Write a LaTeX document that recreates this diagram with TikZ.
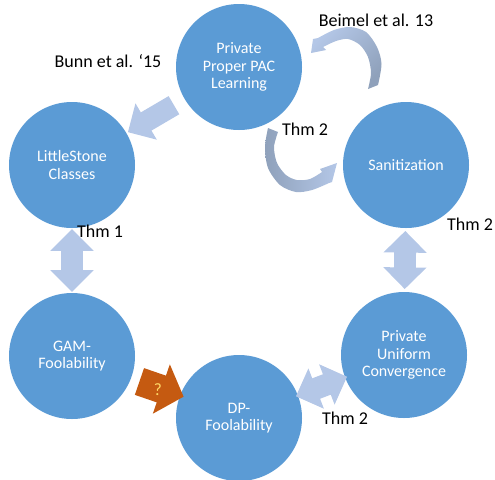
\documentclass[tikz,border=0pt]{standalone}
\usepackage{fontspec}
\setmainfont{Carlito}
\usetikzlibrary{shapes.arrows,calc}

\definecolor{bubble}{HTML}{5B9BD5}
\definecolor{pale}{HTML}{B4C7E7}
\definecolor{slate}{HTML}{8FA1BB}
\definecolor{rust}{HTML}{C55A11}
\definecolor{qmark}{HTML}{FFD966}

\tikzset{
  bub/.style={circle, fill=bubble, minimum size=94.5pt, inner sep=0pt, align=center, text=white, font=\fontsize{12}{13.2}\selectfont},
  lbl/.style={inner sep=0pt, font=\fontsize{13.5}{16}\selectfont},
  fwd/.style={single arrow, fill=pale, inner xsep=0pt, inner ysep=7.7pt, single arrow head extend=7.9pt, single arrow tip angle=90, minimum height=#1},
  both/.style={double arrow, fill=pale, inner xsep=0pt, inner ysep=8pt, double arrow head extend=8pt, double arrow tip angle=90, minimum height=#1},
}

\begin{document}
\begin{tikzpicture}[x=0.75pt,y=-0.75pt]
\useasboundingbox (0,0) rectangle (495,479);

\node (ppac) at (239,67) [bub] {Private\\Proper PAC\\Learning};
\node (ls) at (72,165) [bub] {LittleStone\\Classes};
\node (san) at (406,165) [bub] {Sanitization};
\node (gam) at (72,356) [bub] {GAM-\\Foolability};
\node (puc) at (404,355) [bub] {Private\\Uniform\\Convergence};
\node (dp) at (239,418) [bub] {DP-\\Foolability};

% block arrows between the circles
\node (ppacls) at ($(ppac)!0.5!(ls)$) [fwd=40pt, rotate=210.4] {};
\node (lsgam) at ($(ls)!0.5!(gam)$) [both=47pt, rotate=90] {};
\node (sanpuc) at ($(san)!0.5!(puc)$) [both=43.5pt, rotate=89.4] {};
\node (dppuc) at ($(dp)!0.5!(puc)$) [both=41pt, rotate=21] {};
\node (gamdp) at ($(gam)!0.5!(dp)$) [fwd=35pt, fill=rust, inner ysep=10.4pt, single arrow head extend=9pt, single arrow tip angle=96, rotate=-19] {};
\node (qm) at (158,390) [text=qmark, font=\fontsize{13}{15}\selectfont] {?};

% curved arrows
\shade[top color=pale, bottom color=slate, shading angle=45]
  (368,89) -- (378,85)
  -- plot[smooth] coordinates {(378,85) (381.5,64) (377,47) (366,32) (350,27) (334,30) (318,38)}
  -- (313,39) -- (311,53) -- (326,50)
  -- plot[smooth] coordinates {(323,47) (336,41) (348,39) (360,45) (368,57) (371,73) (368,89)}
  -- cycle;
\shade[left color=slate, right color=pale]
  (268,128) -- (278,132)
  -- plot[smooth] coordinates {(278,132) (274,147) (277,163) (286,175) (297,180) (310,179) (322,172)}
  -- (320,169) -- (337,163) -- (332,182)
  -- plot[smooth] coordinates {(329,183) (312,190) (296,192) (280,185) (268,168) (265,147) (268,128)}
  -- cycle;

% labels
\node (bunn) at (108,61) [lbl] {Bunn et al. ‘15};
\node (beimel) at (376,20) [lbl] {Beimel et al. 13};
\node (thmtop) at (305,129) [lbl] {Thm 2};
\node (thmleft) at (100,231) [lbl] {Thm 1};
\node (thmright) at (470,224) [lbl] {Thm 2};
\node (thmbottom) at (345,418) [lbl] {Thm 2};
\end{tikzpicture}
\end{document}
